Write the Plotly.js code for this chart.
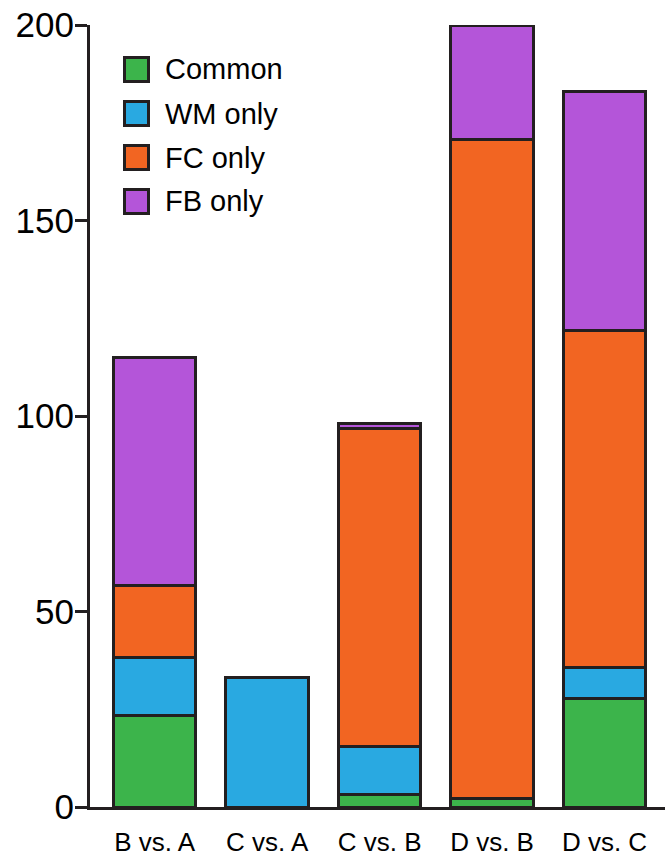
<!DOCTYPE html>
<html>
<head>
<meta charset="utf-8">
<script src="https://cdn.plot.ly/plotly-3.0.1.min.js"></script>
<style>html,body{margin:0;padding:0;background:#fff;}#chart{width:665px;height:856px;}</style>
</head>
<body>
<div id="chart"></div>
<script>
const categories = ['B vs. A', 'C vs. A', 'C vs. B', 'D vs. B', 'D vs. C'];
const common = [23.5, 0, 3.1, 2.2, 27.8];
const wmOnly = [14.7, 33.2, 12.4, 0, 8.0];
const fcOnly = [18.5, 0, 81.3, 168.6, 86.0];
const fbOnly = [58.3, 0, 1.2, 29.2, 61.2];
const seriesNames = ['Common', 'WM only', 'FC only', 'FB only'];
const seriesColors = ['#3cb44b', '#29a9e1', '#f26522', '#b455d9'];
const yTicks = [0, 50, 100, 150, 200];

const seriesValues = [common, wmOnly, fcOnly, fbOnly];
const edge = '#231f20';
const FONT = 'Liberation Sans, Arial, Helvetica, sans-serif';

const W = 665, H = 856;
const M = {l: 90, r: 0, t: 25, b: 49};
const pw = W - M.l - M.r, ph = H - M.t - M.b;
const px2paperX = px => (px - M.l) / pw;
const py2paperY = py => (H - M.b - py) / ph;

const traces = seriesNames.map((name, i) => ({
  type: 'bar',
  name: name,
  x: categories,
  y: seriesValues[i],
  width: 0.733,
  cliponaxis: false,
  marker: {color: seriesColors[i], line: {color: edge, width: 3}},
  hoverinfo: 'x+y+name'
}));

const shapes = [];
const annotations = [];
seriesNames.forEach((name, i) => {
  const cy = 69.5 + i * 44;
  shapes.push({
    type: 'rect', xref: 'paper', yref: 'paper',
    x0: px2paperX(124.5), x1: px2paperX(148.5),
    y0: py2paperY(cy + 12), y1: py2paperY(cy - 12),
    fillcolor: seriesColors[i], line: {color: edge, width: 3}
  });
  annotations.push({
    xref: 'paper', yref: 'paper',
    x: px2paperX(163), y: py2paperY(cy),
    xanchor: 'left', yanchor: 'middle',
    text: name, showarrow: false,
    font: {family: FONT, size: 29, color: '#000'}
  });
});

const layout = {
  width: W, height: H,
  margin: M,
  paper_bgcolor: '#fff', plot_bgcolor: '#fff',
  barmode: 'stack',
  showlegend: false,
  font: {family: FONT, color: '#000'},
  xaxis: {
    type: 'category',
    range: [-0.575, 4.538],
    showline: true, linewidth: 3, linecolor: edge,
    ticks: '', showgrid: false, zeroline: false,
    tickfont: {family: FONT, size: 26, color: '#000'},
    ticklabelstandoff: 10
  },
  yaxis: {
    range: [0, 200],
    tickvals: yTicks,
    ticktext: yTicks.map(String),
    showline: true, linewidth: 3, linecolor: edge,
    ticks: 'outside', ticklen: 12, tickwidth: 3, tickcolor: edge,
    showgrid: false, zeroline: false,
    tickfont: {family: FONT, size: 35, color: '#000'},
    ticklabelstandoff: -6
  },
  shapes: shapes,
  annotations: annotations
};

Plotly.newPlot('chart', traces, layout, {displayModeBar: false, staticPlot: true});
</script>
</body>
</html>
